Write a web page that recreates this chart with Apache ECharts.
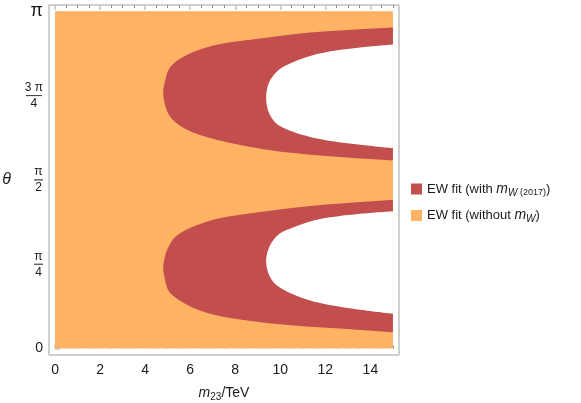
<!DOCTYPE html>
<html>
<head>
<meta charset="utf-8">
<script src="https://cdn.jsdelivr.net/npm/echarts@6/dist/echarts.min.js"></script>
<style>
  html, body { margin: 0; padding: 0; background: #fff; }
  #chart { width: 581px; height: 403px; }
</style>
</head>
<body>
<div id="chart"></div>
<script>
// plot ranges (m23 in TeV, theta in rad)
const mRange = [0, 15]
const thetaRange = [0, Math.PI]

// ticks
const xMajorTicks = [0, 2, 4, 6, 8, 10, 12, 14]
const xMinorTicks = [0.5, 1, 1.5, 2.5, 3, 3.5, 4.5, 5, 5.5, 6.5, 7, 7.5, 8.5, 9, 9.5,
  10.5, 11, 11.5, 12.5, 13, 13.5, 14.5, 15]
const yTicks = [0, Math.PI / 4, Math.PI / 2, 3 * Math.PI / 4, Math.PI]
const yTickLabels = ['0', ['π', '4'], ['π', '2'], ['3 π', '4'], 'π']

// boundaries: [m23, theta]
// EW fit with mW (2017): outer edge of the allowed band
const upperOuter = [
  [15.0, 2.990], [13.55, 2.974], [12.07, 2.955], [10.59, 2.927], [9.11, 2.887], [7.41, 2.839],
  [6.66, 2.801], [5.92, 2.741], [5.33, 2.666], [5.03, 2.592], [4.89, 2.498], [4.80, 2.387],
  [4.89, 2.265], [5.03, 2.188], [5.33, 2.110], [5.92, 2.032], [6.66, 1.976], [7.41, 1.933],
  [9.11, 1.862], [10.59, 1.821], [12.07, 1.793], [13.55, 1.771], [15.0, 1.753]
]
const lowerOuter = [
  [15.0, 1.386], [13.55, 1.364], [12.07, 1.342], [10.59, 1.312], [9.11, 1.271], [7.41, 1.218],
  [6.66, 1.177], [5.92, 1.116], [5.33, 1.038], [5.03, 0.944], [4.89, 0.867], [4.80, 0.752],
  [4.89, 0.634], [5.03, 0.541], [5.33, 0.478], [5.92, 0.401], [6.66, 0.338], [7.41, 0.298],
  [9.11, 0.245], [10.59, 0.214], [12.07, 0.193], [13.55, 0.174], [15.0, 0.152]
]
// excluded by both fits (white)
const upperInner = [
  [15.0, 2.831], [13.55, 2.803], [12.07, 2.762], [11.33, 2.725], [10.59, 2.669], [10.00, 2.607],
  [9.70, 2.545], [9.48, 2.468], [9.37, 2.335], [9.48, 2.203], [9.70, 2.125], [10.00, 2.070],
  [10.59, 2.016], [11.33, 1.970], [12.07, 1.939], [13.55, 1.899], [15.0, 1.867]
]
const lowerInner = [
  [15.0, 1.280], [13.55, 1.256], [12.07, 1.218], [11.33, 1.184], [10.59, 1.131], [10.00, 1.075],
  [9.70, 1.013], [9.48, 0.929], [9.37, 0.820], [9.48, 0.696], [9.70, 0.618], [10.00, 0.566],
  [10.59, 0.503], [11.33, 0.447], [12.07, 0.410], [13.55, 0.361], [15.0, 0.323]
]

const ORANGE = '#FDB264'
const RED = '#C24E4E'
const TEXT = '#1a1a1a'
const FONT = 'Liberation Sans, Arial, sans-serif'
const NAME_WITH = 'EW fit (with mW (2017))'
const NAME_WITHOUT = 'EW fit (without mW)'

// centripetal catmull-rom through the points, straight closing edge
function smoothPath (pts) {
  const dist = (a, b) => Math.sqrt(Math.hypot(b[0] - a[0], b[1] - a[1]))
  let d = 'M' + pts[0][0] + ' ' + pts[0][1]
  for (let i = 0; i < pts.length - 1; i++) {
    const p0 = pts[i - 1] || pts[i]
    const p1 = pts[i]
    const p2 = pts[i + 1]
    const p3 = pts[i + 2] || p2
    const d1 = dist(p0, p1)
    const d2 = dist(p1, p2)
    const d3 = dist(p2, p3)
    let c1 = p1
    let c2 = p2
    if (d1 > 1e-6) {
      const k = 3 * d1 * (d1 + d2)
      c1 = [0, 1].map(j => (d1 * d1 * p2[j] - d2 * d2 * p0[j] + (2 * d1 * d1 + 3 * d1 * d2 + d2 * d2) * p1[j]) / k)
    }
    if (d3 > 1e-6) {
      const k = 3 * d3 * (d3 + d2)
      c2 = [0, 1].map(j => (d3 * d3 * p1[j] - d2 * d2 * p3[j] + (2 * d3 * d3 + 3 * d3 * d2 + d2 * d2) * p2[j]) / k)
    }
    d += ' C' + c1[0] + ' ' + c1[1] + ' ' + c2[0] + ' ' + c2[1] + ' ' + p2[0] + ' ' + p2[1]
  }
  return d + ' Z'
}

function regionSeries (name, pts, color, z, smooth) {
  return {
    type: 'custom',
    name: name,
    z: z,
    silent: true,
    xAxisIndex: 0,
    yAxisIndex: 0,
    itemStyle: { color: color },
    encode: { x: 0, y: 1 },
    data: pts,
    renderItem (params, api) {
      if (params.context.drawn) return
      params.context.drawn = true
      const px = []
      for (let i = 0; i < params.dataInsideLength; i++) {
        px.push(api.coord([api.value(0, i), api.value(1, i)]))
      }
      let d
      if (smooth) {
        d = smoothPath(px)
      } else {
        d = 'M' + px.map(p => p[0] + ' ' + p[1]).join(' L') + ' Z'
      }
      return { type: 'path', shape: { pathData: d }, style: { fill: color, stroke: null } }
    }
  }
}

const fullRegion = [
  [mRange[0], thetaRange[0]], [mRange[1], thetaRange[0]],
  [mRange[1], thetaRange[1]], [mRange[0], thetaRange[1]]
]

const gridBox = { left: 49, top: 5, width: 350, height: 350, outerBoundsMode: 'none', containLabel: false }
const xMin = -0.27
const xMax = 15.27
const yMin = -0.06
const yMax = 3.2

const majorTick = { color: '#c4c4c4', width: 1.5 }
const minorTick = { color: '#8c8c8c', width: 1 }

function bareX (gridIndex, position, ticks, len, style) {
  return {
    type: 'value', gridIndex: gridIndex, position: position, min: xMin, max: xMax,
    axisLine: { show: false }, splitLine: { show: false },
    axisLabel: { show: false },
    axisTick: { show: true, inside: true, length: len, customValues: ticks, lineStyle: style }
  }
}

const chart = echarts.init(document.getElementById('chart'))
chart.setOption({
  animation: false,
  textStyle: { fontFamily: FONT },
  grid: [
    Object.assign({ show: true, borderColor: '#a0a0a0', borderWidth: 1, backgroundColor: 'transparent' }, gridBox),
    Object.assign({ show: false }, gridBox)
  ],
  legend: {
    orient: 'vertical',
    left: 411,
    top: 182,
    padding: 0,
    itemWidth: 11,
    itemHeight: 11,
    itemGap: 10.5,
    icon: 'rect',
    data: [NAME_WITH, NAME_WITHOUT],
    formatter (name) {
      if (name === NAME_WITH) return 'EW fit (with {i|m}{s|W}{sr| (2017)})'
      return 'EW fit (without {i|m}{s|W})'
    },
    textStyle: {
      fontSize: 13,
      color: TEXT,
      fontFamily: FONT,
      rich: {
        i: { fontSize: 14, fontStyle: 'italic', color: TEXT, fontFamily: FONT },
        s: { fontSize: 10, fontStyle: 'italic', color: TEXT, fontFamily: FONT, padding: [8, 0, 0, 0] },
        sr: { fontSize: 9, color: TEXT, fontFamily: FONT, padding: [8, 0, 0, 0] }
      }
    }
  },
  xAxis: [
    {
      type: 'value', gridIndex: 0, position: 'bottom', min: xMin, max: xMax,
      name: '{i|m}{s|23}/TeV',
      nameLocation: 'middle',
      nameGap: 29,
      nameTextStyle: {
        fontSize: 14, color: TEXT, fontFamily: FONT,
        rich: {
          i: { fontSize: 14, fontStyle: 'italic', color: TEXT, fontFamily: FONT },
          s: { fontSize: 10, color: TEXT, fontFamily: FONT, padding: [8, 0, 0, 0] }
        }
      },
      axisLine: { show: false }, splitLine: { show: false },
      axisTick: { show: true, inside: true, length: 5, customValues: xMajorTicks, lineStyle: majorTick },
      axisLabel: { customValues: xMajorTicks, fontSize: 14, color: TEXT, margin: 8, fontFamily: FONT }
    },
    bareX(0, 'top', xMajorTicks, 5, majorTick),
    bareX(1, 'bottom', xMinorTicks, 3, minorTick),
    bareX(1, 'top', xMinorTicks, 3, minorTick)
  ],
  yAxis: [
    {
      type: 'value', gridIndex: 0, position: 'left', min: yMin, max: yMax,
      name: 'θ',
      nameLocation: 'middle',
      nameRotate: 0,
      nameGap: 38,
      nameTextStyle: { fontSize: 16, fontStyle: 'italic', color: TEXT, fontFamily: FONT },
      axisLine: { show: false }, splitLine: { show: false },
      axisTick: { show: true, inside: true, length: 5, customValues: yTicks, lineStyle: majorTick },
      axisLabel: {
        customValues: yTicks,
        margin: 6,
        color: TEXT,
        fontSize: 14,
        fontFamily: FONT,
        formatter (value) {
          let idx = 0
          yTicks.forEach((t, i) => { if (Math.abs(t - value) < Math.abs(yTicks[idx] - value)) idx = i })
          const lab = yTickLabels[idx]
          if (typeof lab === 'string') return lab === 'π' ? '{p|π}' : lab
          const bar = lab[0].length > 1 ? 'hrw' : 'hrn'
          return '{n|' + lab[0] + '}\n{' + bar + '|}\n{d|' + lab[1] + '}'
        },
        rich: {
          p: { fontSize: 18, color: TEXT, fontFamily: FONT },
          n: { fontSize: 12, color: TEXT, align: 'center', lineHeight: 16, fontFamily: FONT },
          d: { fontSize: 12, color: TEXT, align: 'center', lineHeight: 16, fontFamily: FONT },
          hrw: { width: 16, height: 0, borderColor: TEXT, borderWidth: 0.6, align: 'center' },
          hrn: { width: 9, height: 0, borderColor: TEXT, borderWidth: 0.6, align: 'center' }
        }
      }
    },
    {
      type: 'value', gridIndex: 1, min: yMin, max: yMax, show: false
    }
  ],
  series: [
    regionSeries(NAME_WITHOUT, fullRegion, ORANGE, 1, false),
    regionSeries(NAME_WITH, upperOuter, RED, 2, true),
    regionSeries(NAME_WITH, lowerOuter, RED, 2, true),
    regionSeries('excluded', upperInner, '#ffffff', 3, true),
    regionSeries('excluded', lowerInner, '#ffffff', 3, true)
  ]
})
</script>
</body>
</html>
